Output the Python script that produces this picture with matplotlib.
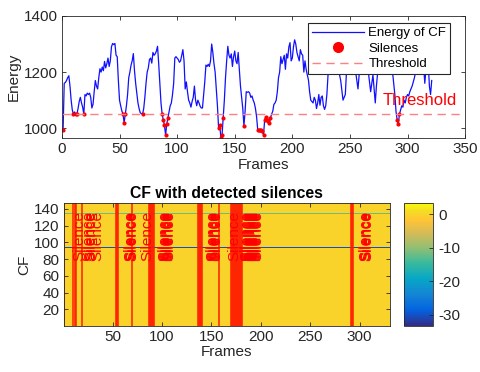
import matplotlib

matplotlib.use("Agg")
import matplotlib.pyplot as plt
import numpy as np
from matplotlib.colors import LinearSegmentedColormap

plt.rcParams["font.family"] = ["Liberation Sans", "DejaVu Sans"]
plt.rcParams["axes.unicode_minus"] = False

# Energy of CF (frame, energy)
frames = list(range(1, 232)) + [
    232, 234, 236, 238, 240, 242, 244, 246, 247, 249, 251, 253, 255, 257, 258,
    260, 262, 264, 266, 268, 270, 272, 273, 275, 277, 279, 281, 283, 285, 287,
    289, 290, 291, 292, 293, 294, 295, 296, 297, 298, 299, 300, 301, 302, 304,
    306, 308, 310, 312, 314, 315, 316, 318, 319, 320, 321,
]
energy = [
    993, 1160, 1163, 1170, 1180, 1187, 1150, 1100, 1065, 1050,
    1058, 1050, 1050, 1070, 1095, 1110, 1090, 1075, 1050, 1120,
    1115, 1125, 1120, 1125, 1110, 1072, 1085, 1130, 1170, 1150,
    1140, 1180, 1212, 1200, 1218, 1205, 1238, 1215, 1230, 1250,
    1220, 1240, 1290, 1302, 1298, 1302, 1260, 1255, 1170, 1100,
    1080, 1062, 1050, 1020, 1050, 1080, 1120, 1180, 1200, 1225,
    1240, 1266, 1205, 1160, 1125, 1090, 1070, 1055, 1052, 1050,
    1070, 1110, 1160, 1200, 1215, 1245, 1250, 1232, 1270, 1260,
    1265, 1275, 1292, 1230, 1160, 1090, 1050, 1030, 1010, 975,
    1015, 1037, 1060, 1080, 1090, 1120, 1160, 1250, 1255, 1250,
    1245, 1235, 1240, 1260, 1280, 1240, 1140, 1165, 1130, 1100,
    1090, 1075, 1095, 1110, 1150, 1100, 1080, 1100, 1090, 1078,
    1072, 1072, 1120, 1165, 1225, 1220, 1228, 1220, 1240, 1300,
    1270, 1230, 1200, 1140, 1080, 1000, 1012, 965, 975, 1035,
    1100, 1180, 1240, 1292, 1260, 1250, 1265, 1220, 1255, 1275,
    1240, 1230, 1270, 1210, 1150, 1110, 1070, 1008, 1060, 1130,
    1128, 1130, 1125, 1110, 1115, 1100, 1090, 1070, 1040, 993,
    995, 993, 995, 990, 975, 1030, 1040, 1030, 1025, 1020,
    1035, 1050, 1060, 1085, 1090, 1100, 1130, 1180, 1200, 1255,
    1230, 1245, 1260, 1210, 1265, 1250, 1290, 1305, 1240, 1250,
    1290, 1315, 1300, 1270, 1255, 1240, 1280, 1265, 1260, 1200,
    1240, 1210, 1190, 1172, 1130, 1100, 1095, 1090, 1110, 1100,
    1070, 1090, 1120, 1082, 1110, 1115, 1080, 1067, 1080, 1120,
    1190,
    1240, 1260, 1230, 1250, 1210, 1170, 1100, 1120, 1200, 1250,
    1230, 1260, 1200, 1140, 1190, 1250, 1270, 1230, 1200, 1130,
    1190, 1090, 1150, 1240, 1260, 1220, 1250, 1280, 1230, 1200,
    1120, 1060, 1030, 1015, 1050, 1065, 1080, 1075, 1100, 1090,
    1110, 1120, 1115, 1130, 1150, 1180, 1220, 1200, 1240, 1220,
    1160, 1210, 1230, 1150, 1120, 1170,
]

silence_frames = [
    1, 10, 12, 13, 19, 53, 54, 55, 70, 87, 88, 89, 90, 91, 92,
    136, 137, 138, 139, 140, 158, 170, 171, 172, 173, 174, 175,
    176, 177, 178, 179, 180, 181, 291, 292, 293,
]
silence_energy = [
    993, 1050, 1050, 1050, 1050, 1050, 1020, 1050, 1050, 1050, 1030, 1010,
    975, 1015, 1037, 1000, 1012, 965, 975, 1035, 1008, 993, 995, 993,
    995, 990, 975, 1030, 1040, 1030, 1025, 1020, 1035, 1030, 1015, 1050,
]
threshold = 1050

# CF matrix (bottom panel): flat level with a couple of deviating rows
n_cf = 146
n_frames = 330
cf_base = 0.0
cf_rows = [94, 134]
cf_row_levels = [-30.0, -12.0]
text_shift = 15

parula = LinearSegmentedColormap.from_list("parula", [
    (0.000, (0.2081, 0.1663, 0.5292)),
    (0.127, (0.0117, 0.3875, 0.8820)),
    (0.254, (0.0793, 0.5200, 0.8312)),
    (0.381, (0.0228, 0.6535, 0.7768)),
    (0.508, (0.2178, 0.7250, 0.6193)),
    (0.635, (0.5709, 0.7485, 0.4494)),
    (0.746, (0.8185, 0.7327, 0.3498)),
    (0.857, (0.9990, 0.7653, 0.2164)),
    (0.937, (0.9626, 0.8705, 0.1309)),
    (1.000, (0.9763, 0.9831, 0.0538)),
])

ink = "#262626"
fig = plt.figure(figsize=(4.8, 3.72), dpi=100)

# ---- top: energy ----
ax1 = fig.add_axes([0.129, 0.629, 0.840, 0.328])
ax1.plot(frames, energy, color="#1010ff", lw=0.9, label="Energy of CF")
ax1.plot(silence_frames, silence_energy, "o", color="r", markersize=3,
         markeredgewidth=0, label="Silences")
ax1.axhline(threshold, color="#ff8080", lw=1, linestyle=(0, (6, 4)),
            label="Threshold")
ax1.text(278, 1098, "Threshold", color="r", fontsize=12, va="center")
ax1.set_xlim(0, 350)
ax1.set_ylim(965, 1400)
ax1.set_xticks(np.arange(0, 351, 50))
ax1.set_yticks([1000, 1200, 1400])
ax1.set_xlabel("Frames", fontsize=11, color=ink, labelpad=1)
ax1.set_ylabel("Energy", fontsize=11, color=ink, labelpad=2)
leg = ax1.legend(loc="upper right", bbox_to_anchor=(0.963, 0.943),
                 fontsize=9.5, handlelength=4, fancybox=False,
                 edgecolor=ink, framealpha=1, borderpad=0.3,
                 labelspacing=0.25, handletextpad=0.3, borderaxespad=0)
leg.get_frame().set_linewidth(0.8)
leg.legend_handles[1].set_markersize(8)

# ---- bottom: CF image ----
cf = np.full((n_cf, n_frames), cf_base)
for r, v in zip(cf_rows, cf_row_levels):
    cf[r - 1, :] = v

ax2 = fig.add_axes([0.133, 0.1245, 0.679, 0.329])
im = ax2.imshow(cf, cmap=parula, vmin=-33.3, vmax=3.5, origin="lower",
                aspect="auto", interpolation="nearest",
                extent=(0.5, n_frames + 0.5, 0.5, n_cf + 0.5))
for f in silence_frames:
    ax2.axvline(f, color="#ff1a00", lw=1.2, alpha=0.9)
for f in silence_frames:
    ax2.text(f + text_shift, 78, "Silence", rotation=90, rotation_mode="anchor",
             ha="left", va="center", color="r", fontsize=11, clip_on=True)
ax2.set_xlim(0.5, n_frames + 0.5)
ax2.set_ylim(0.5, n_cf + 0.5)
ax2.set_xticks(np.arange(50, 301, 50))
ax2.set_yticks(np.arange(20, 141, 20))
ax2.set_xlabel("Frames", fontsize=11, color=ink, labelpad=1)
ax2.set_ylabel("CF", fontsize=11, color=ink, labelpad=2)
ax2.set_title("CF with detected silences", fontsize=11.3, fontweight="bold",
              color="black", pad=4)

for ax in (ax1, ax2):
    ax.tick_params(direction="in", length=3, width=0.6, top=True, right=True,
                   labelsize=11, colors=ink, pad=3)
    for s in ax.spines.values():
        s.set_color(ink)
        s.set_linewidth(0.6)

cax = fig.add_axes([0.842, 0.124, 0.060, 0.331])
cb = fig.colorbar(im, cax=cax)
cb.set_ticks([0, -10, -20, -30])
cb.ax.tick_params(direction="in", length=3, width=0.6, labelsize=11,
                  colors=ink, pad=4)
cb.outline.set_edgecolor(ink)
cb.outline.set_linewidth(0.6)

fig.savefig("out.png", dpi=100, facecolor="white")
